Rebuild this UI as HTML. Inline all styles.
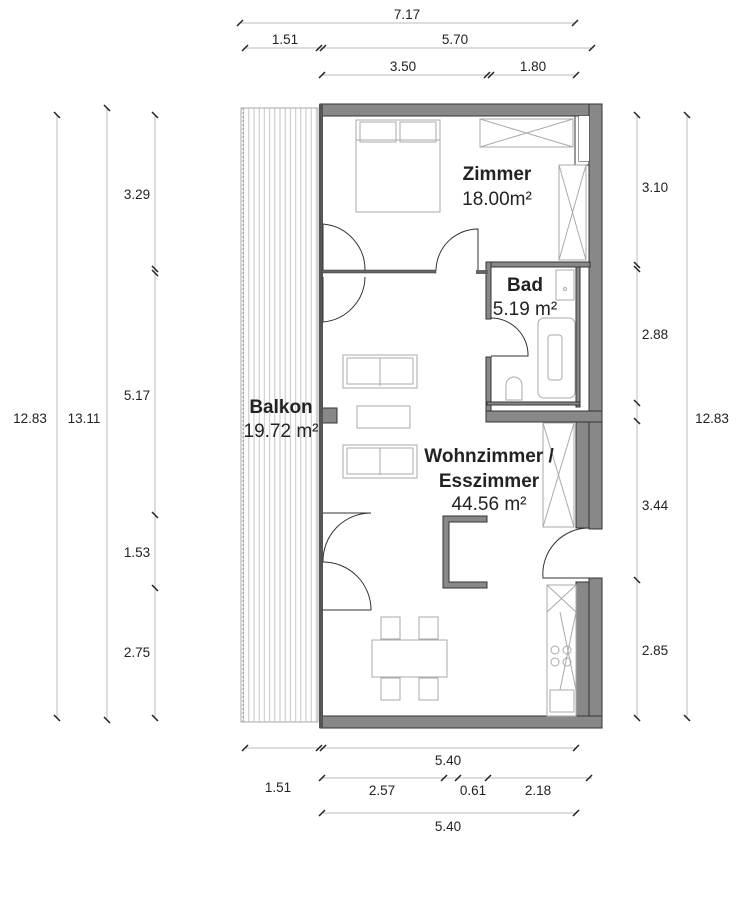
<!DOCTYPE html>
<html><head><meta charset="utf-8"><style>
body{margin:0;background:#fff}
svg{display:block}
text{font-family:"Liberation Sans",sans-serif;fill:#222}
</style></head><body>
<svg width="752" height="900" viewBox="0 0 752 900" xmlns="http://www.w3.org/2000/svg">
<defs>
<pattern id="bal" x="241" y="0" width="5.2" height="10" patternUnits="userSpaceOnUse">
<line x1="2.6" y1="0" x2="2.6" y2="10" stroke="#c4c4c4" stroke-width="1"/>
</pattern>
</defs>
<rect x="241" y="108" width="77" height="614" fill="url(#bal)" stroke="#aaa" stroke-width="1"/>
<line x1="243" y1="108" x2="243" y2="722" stroke="#999" stroke-dasharray="2,2"/>
<g fill="#888" stroke="#333" stroke-width="1">
<rect x="320" y="104" width="282" height="12"/>
<rect x="589" y="104" width="13" height="425"/>
<rect x="589" y="578" width="13" height="150"/>
<rect x="320" y="716" width="282" height="12"/>
<rect x="486" y="411" width="116" height="11"/>
<rect x="486" y="262" width="104" height="5"/>
<rect x="486" y="262" width="5" height="57"/>
<rect x="486" y="357" width="5" height="54"/>
<rect x="576" y="267" width="4" height="140"/>
<rect x="487" y="402" width="93" height="3"/>
<rect x="576" y="422" width="13" height="106"/>
<rect x="576" y="582" width="13" height="134"/>
<rect x="322" y="408" width="15" height="15"/>
</g>
<path d="M575 116 V165 H589 V116 M579 116 V161 H589" fill="none" stroke="#333"/>
<rect x="579" y="116" width="10" height="45" fill="#fff"/>
<rect x="319" y="104" width="4" height="624" fill="#555"/>
<rect x="322" y="270" width="114" height="3" fill="#666" stroke="#333" stroke-width=".5"/>
<rect x="476" y="270" width="12" height="4" fill="#666"/>
<g fill="none" stroke="#333" stroke-width="1">
<path d="M323 224 A46 46 0 0 1 365 270"/><line x1="323" y1="224" x2="323" y2="270"/>
<path d="M323 322 A46 46 0 0 0 365 277"/><line x1="323" y1="277" x2="323" y2="322"/>
<path d="M323 562 A48 48 0 0 1 371 513 H323"/>
<path d="M323 562 A48 48 0 0 1 371 610 H323"/>
<path d="M436 270 A42 42 0 0 1 478 229 V270"/>
<path d="M491 318 A37 37 0 0 1 528 356 H491"/>
<path d="M589 528 A46 46 0 0 0 543 578 H589"/>
</g>
<g fill="none" stroke="#aaa" stroke-width="1">
<rect x="356" y="120" width="84" height="92"/>
<rect x="360" y="122" width="36" height="20"/><rect x="400" y="122" width="36" height="20"/>
<line x1="356" y1="140" x2="440" y2="140"/>
<rect x="480" y="119" width="93" height="28"/><path d="M480 119 L573 147 M480 147 L573 119"/>
<rect x="559" y="165" width="27" height="95"/><path d="M559 165 L586 260 M586 165 L559 260"/>
<rect x="343" y="355" width="74" height="33"/><line x1="380" y1="358" x2="380" y2="386"/><rect x="347" y="358" width="66" height="26"/>
<rect x="357" y="406" width="53" height="22"/>
<rect x="343" y="445" width="74" height="33"/><line x1="380" y1="448" x2="380" y2="475"/><rect x="347" y="448" width="66" height="26"/>
<rect x="543" y="423" width="31" height="104"/><path d="M543 423 L574 527 M574 423 L543 527"/>
<rect x="372" y="640" width="75" height="37"/>
<rect x="381" y="617" width="19" height="22"/><rect x="419" y="617" width="19" height="22"/>
<rect x="381" y="678" width="19" height="22"/><rect x="419" y="678" width="19" height="22"/>
<rect x="547" y="585" width="29" height="131"/><path d="M547 585 L576 612 M576 585 L547 612 M560 612 L576 690 M576 612 L560 690"/>
<circle cx="555" cy="650" r="4"/><circle cx="567" cy="650" r="4"/><circle cx="555" cy="662" r="4"/><circle cx="567" cy="662" r="4"/>
<rect x="550" y="690" width="24" height="22"/>
<rect x="538" y="318" width="37" height="80" rx="6"/><rect x="548" y="335" width="14" height="45" rx="3"/>
<rect x="556" y="270" width="18" height="30"/><circle cx="565" cy="289" r="1.5"/>
<path d="M506 400 V385 A8 8 0 0 1 522 385 V400 Z"/>
</g>
<path d="M443 516 H487 V522 H449 V582 H487 V588 H443 Z" fill="#888" stroke="#333"/>
<g font-size="19" text-anchor="middle">
<text x="497" y="180" font-weight="bold">Zimmer</text>
<text x="497" y="205">18.00m²</text>
<text x="525" y="291" font-weight="bold">Bad</text>
<text x="525" y="315">5.19 m²</text>
<text x="281" y="413" font-weight="bold">Balkon</text>
<text x="281" y="437">19.72 m²</text>
<text x="489" y="462" font-weight="bold">Wohnzimmer /</text>
<text x="489" y="487" font-weight="bold">Esszimmer</text>
<text x="489" y="510">44.56 m²</text>
</g>
<g stroke="#bbb" stroke-width="1">
<line x1="240" y1="23" x2="575" y2="23"/>
<line x1="245" y1="48" x2="592" y2="48"/>
<line x1="322" y1="75" x2="576" y2="75"/>
<line x1="57" y1="115" x2="57" y2="718"/>
<line x1="107" y1="108" x2="107" y2="720"/>
<line x1="155" y1="115" x2="155" y2="718"/>
<line x1="637" y1="115" x2="637" y2="718"/>
<line x1="687" y1="115" x2="687" y2="718"/>
<line x1="245" y1="748" x2="576" y2="748"/>
<line x1="322" y1="778" x2="592" y2="778"/>
<line x1="322" y1="813" x2="576" y2="813"/>
</g>
<g stroke="#222" stroke-width="1.5">
<path d="M237 26 l6 -6 M572 26 l6 -6"/>
<path d="M242 51 l6 -6 M316 51 l6 -6 M320 51 l6 -6 M589 51 l6 -6"/>
<path d="M319 78 l6 -6 M484 78 l6 -6 M488 78 l6 -6 M573 78 l6 -6"/>
<path d="M54 112 l6 6 M54 715 l6 6"/>
<path d="M104 105 l6 6 M104 717 l6 6"/>
<path d="M152 112 l6 6 M152 266 l6 6 M152 270 l6 6 M152 512 l6 6 M152 585 l6 6 M152 715 l6 6"/>
<path d="M634 112 l6 6 M634 262 l6 6 M634 266 l6 6 M634 400 l6 6 M634 418 l6 6 M634 577 l6 6 M634 715 l6 6"/>
<path d="M684 112 l6 6 M684 715 l6 6"/>
<path d="M242 751 l6 -6 M316 751 l6 -6 M320 751 l6 -6 M573 751 l6 -6"/>
<path d="M319 781 l6 -6 M441 781 l6 -6 M455 781 l6 -6 M485 781 l6 -6 M586 781 l6 -6"/>
<path d="M319 816 l6 -6 M573 816 l6 -6"/>
</g>
<g font-size="13.5" text-anchor="middle">
<text x="407" y="19">7.17</text>
<text x="285" y="44">1.51</text>
<text x="455" y="44">5.70</text>
<text x="403" y="71">3.50</text>
<text x="533" y="71">1.80</text>
<text x="30" y="423">12.83</text>
<text x="84" y="423">13.11</text>
<text x="137" y="199">3.29</text>
<text x="137" y="400">5.17</text>
<text x="137" y="557">1.53</text>
<text x="137" y="657">2.75</text>
<text x="655" y="192">3.10</text>
<text x="655" y="339">2.88</text>
<text x="712" y="423">12.83</text>
<text x="655" y="510">3.44</text>
<text x="655" y="655">2.85</text>
<text x="448" y="765">5.40</text>
<text x="278" y="792">1.51</text>
<text x="382" y="795">2.57</text>
<text x="473" y="795">0.61</text>
<text x="538" y="795">2.18</text>
<text x="448" y="831">5.40</text>
</g>
</svg>
</body></html>
